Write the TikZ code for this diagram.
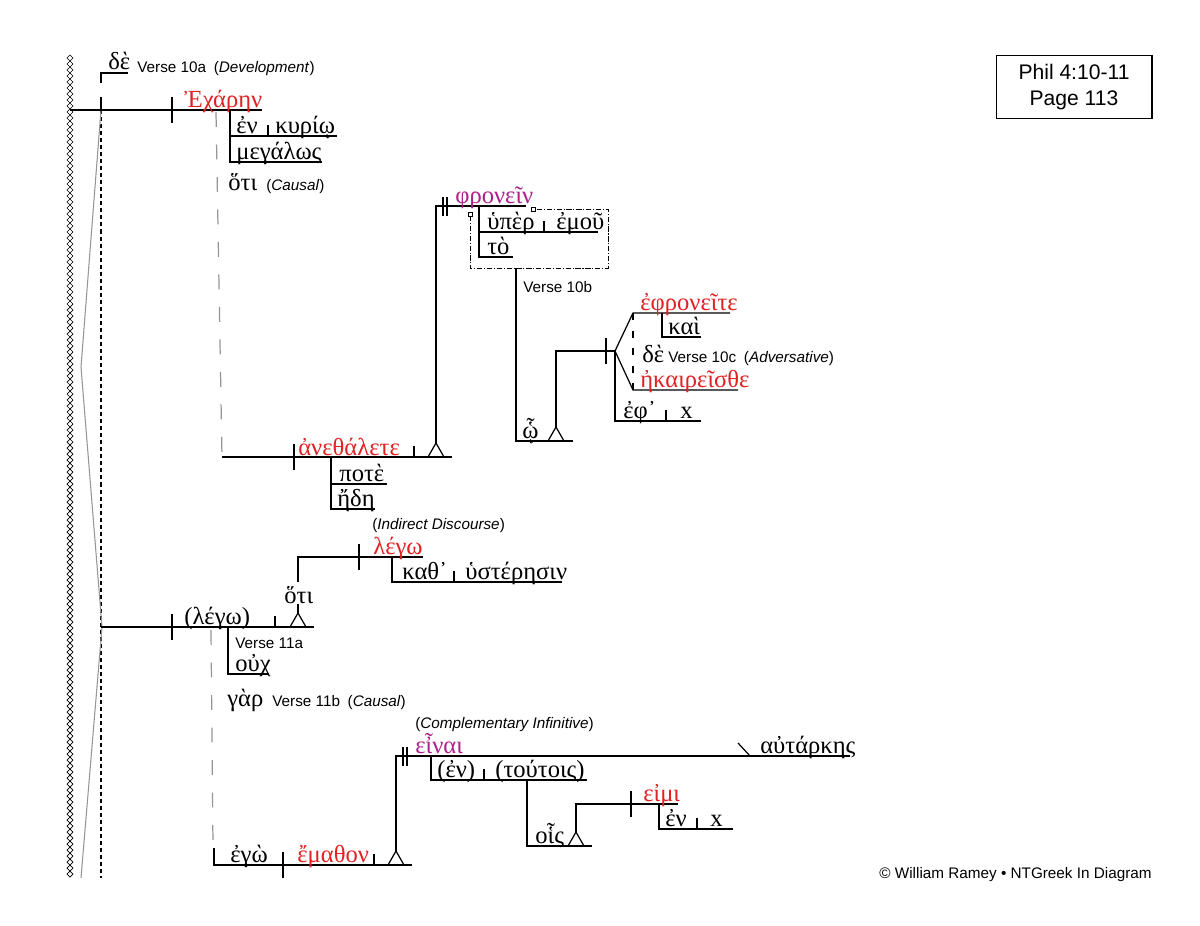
\documentclass[tikz,border=0pt]{standalone}
\usepackage{fontspec}
\setmainfont{Liberation Sans}
\newfontfamily\grk{Liberation Serif}
\usetikzlibrary{positioning}

\definecolor{verbred}{RGB}{226,34,34}
\definecolor{infmag}{RGB}{172,34,140}
\definecolor{guide}{RGB}{150,150,150}

\tikzset{
  base/.style={line width=0.7pt},
  gk/.style={font=\grk\fontsize{14}{14}\selectfont, inner sep=0pt, anchor=base west},
  vb/.style={gk, text=verbred},
  inf/.style={gk, text=infmag},
  lb/.style={font=\fontsize{8.7}{10}\selectfont, inner sep=0pt, anchor=base west},
  guideline/.style={guide, line width=0.7pt, dash pattern=on 8.5pt off 10pt},
  clausebox/.style={line width=0.5pt, dash pattern=on 3pt off 1pt on 0.6pt off 1pt},
  split/.pic={\draw[base] (0,-13) -- (0,13);},
  tick/.pic={\draw[base] (0,0) -- (0,-11);},
  dbar/.pic={\draw[base] (-2,-9) -- (-2,10) (2,-9) -- (2,10);},
  tri/.pic={\draw[base] (-8,0) -- (0,-14) -- (8,0); \coordinate (-apex) at (0,-14);},
  knob/.pic={\draw[line width=0.5pt, fill=white] (-2,-2) rectangle (2,2);}
}

\begin{document}
\begin{tikzpicture}[x=0.02cm, y=-0.02cm]
  \useasboundingbox[fill=white] (0,0) rectangle (1200,926);

  % margin
  \foreach \i in {0,...,136}
    \draw[line width=0.4pt] (70,55+6*\i) -- ++(3,3) -- ++(-3,3) -- ++(-3,-3) -- cycle;
  \coordinate (top) at (101,110);
  \coordinate (bot) at (101,878);
  \draw[line width=0.6pt, dash pattern=on 2.3pt off 1.7pt] (top) -- (bot);
  \draw[guide, line width=0.6pt] (top) -- (81,367) -- (102,627) -- (81,878);

  % verse 10a
  \coordinate (de0) at (101,83);
  \coordinate (de1) at (128,73);
  \draw[base] (de0) |- (de1);
  \draw[base] (101,97) -- (top);
  \node[gk] (de) at (108,70) {δὲ};
  \node[lb] (v10a) at (137,72) {Verse 10a\enspace(\textit{Development})};

  \coordinate (zig) at (70,110);
  \coordinate (ex1) at (262,110);
  \draw[base] (zig) -- (ex1);
  \pic at (172,110) {split};
  \node[vb] (echaren) at (184,108) {Ἐχάρην};
  \coordinate (m0) at (230,110);
  \coordinate (m1) at (337,136);
  \coordinate (m2) at (322,162);
  \draw[base] (m0) |- (m2);
  \draw[base] (m0 |- m1) -- (m1);
  \pic at (268,136) {tick};
  \node[gk] (en1) at (236,133) {ἐν};
  \node[gk] (kyrio) at (275,133) {κυρίῳ};
  \node[gk] (megalos) at (236,159) {μεγάλως};
  \node[gk] (hoti1) at (228,190) {ὅτι};
  \node[lb] (causal1) at (266,190) {(\textit{Causal})};

  % anethalete
  \coordinate (g0) at (216,112);
  \coordinate (an0) at (222,457);
  \coordinate (an1) at (452,457);
  \draw[guideline] (g0) -- (an0);
  \draw[base] (an0) -- (an1);
  \pic at (294,457) {split};
  \pic at (414,457) {tick};
  \pic (t1) at (436,457) {tri};
  \node[vb] (anethalete) at (298,455) {ἀνεθάλετε};
  \coordinate (p0) at (331,457);
  \coordinate (p1) at (387,484);
  \coordinate (p2) at (375,509);
  \draw[base] (p0) |- (p2);
  \draw[base] (p0 |- p1) -- (p1);
  \node[gk] (pote) at (339,481) {ποτὲ};
  \node[gk] (ede) at (337,506) {ἤδη};

  % phronein
  \coordinate (ph0) at (436,206);
  \coordinate (ph1) at (526,206);
  \draw[base] (t1-apex) -- (ph0) -- (ph1);
  \pic at (445,206) {dbar};
  \node[inf] (phronein) at (455,203) {φρονεῖν};
  \coordinate (h0) at (479,206);
  \coordinate (h1) at (598,232);
  \coordinate (h2) at (513,257);
  \draw[base] (h0) |- (h2);
  \draw[base] (h0 |- h1) -- (h1);
  \pic at (544,232) {tick};
  \node[gk] (hyper) at (487,229) {ὑπὲρ};
  \node[gk] (emou) at (556,229) {ἐμοῦ};
  \node[gk] (to) at (487,254) {τὸ};
  \coordinate (k0) at (470,216);
  \coordinate (k1) at (608,268);
  \coordinate (k2) at (535,209);
  \draw[clausebox] (k0) |- (k1) |- (k2);
  \pic at (470,214) {knob};
  \pic at (533,209) {knob};

  % verse 10b / 10c
  \coordinate (w0) at (516,268);
  \coordinate (w1) at (573,441);
  \draw[base] (w0) |- (w1);
  \node[lb] (v10b) at (523,292) {Verse 10b};
  \node[gk] (ho) at (522,438) {ᾧ};
  \pic (t2) at (556,441) {tri};
  \coordinate (c0) at (556,351);
  \coordinate (c1) at (615,351);
  \draw[base] (t2-apex) -- (c0) -- (c1);
  \pic at (606,351) {split};
  \coordinate (up0) at (633,313);
  \coordinate (up1) at (730,313);
  \coordinate (lo0) at (633,390);
  \coordinate (lo1) at (738,390);
  \draw[base] (c1) -- (up0) -- (up1);
  \draw[base] (c1) -- (lo0) -- (lo1);
  \draw[line width=0.6pt, dash pattern=on 4pt off 6pt] (up0) -- (lo0);
  \node[vb] (ephroneite) at (640,310) {ἐφρονεῖτε};
  \node[vb] (ekaireisthe) at (640,387) {ἠκαιρεῖσθε};
  \coordinate (ka0) at (662,313);
  \coordinate (ka1) at (701,337);
  \draw[base] (ka0) |- (ka1);
  \node[gk] (kai) at (668,334) {καὶ};
  \node[gk] (de2) at (642,362) {δὲ};
  \node[lb] (v10c) at (668,362) {Verse 10c\enspace(\textit{Adversative})};
  \coordinate (ep1) at (701,421);
  \draw[base] (c1) |- (ep1);
  \pic at (666,421) {tick};
  \node[gk] (eph) at (623,418) {ἐφ᾿};
  \node[gk] (x1) at (680,418) {x};

  % lego
  \node[lb] (indirect) at (372,529) {(\textit{Indirect Discourse})};
  \coordinate (l0) at (298,582);
  \coordinate (l1) at (423,557);
  \draw[base] (l0) |- (l1);
  \pic at (359,557) {split};
  \node[vb] (lego) at (373,554) {λέγω};
  \coordinate (kt0) at (392,557);
  \coordinate (kt1) at (562,582);
  \draw[base] (kt0) |- (kt1);
  \pic at (454,582) {tick};
  \node[gk] (kath) at (402,579) {καθ᾿};
  \node[gk] (hysteresin) at (465,579) {ὑστέρησιν};
  \node[gk] (hoti2) at (284,603) {ὅτι};

  % verse 11a
  \coordinate (lg0) at (101,627);
  \coordinate (lg1) at (314,627);
  \draw[base] (lg0) -- (lg1);
  \pic at (172,627) {split};
  \pic at (275,627) {tick};
  \pic (t3) at (298,627) {tri};
  \draw[base] (t3-apex) -- (298,604);
  \node[gk] (lego2) at (184,624) {(λέγω)};
  \coordinate (o0) at (228,627);
  \coordinate (o1) at (269,674);
  \draw[base] (o0) |- (o1);
  \node[lb] (v11a) at (235,648) {Verse 11a};
  \node[gk] (ouch) at (235,671) {οὐχ};

  % verse 11b
  \coordinate (g2) at (211,630);
  \coordinate (eg0) at (214,848);
  \coordinate (eg1) at (412,865);
  \draw[guideline] (g2) -- (213,846);
  \draw[base] (eg0) |- (eg1);
  \node[gk] (gar) at (227,706) {γὰρ};
  \node[lb] (v11b) at (272,706) {Verse 11b\enspace(\textit{Causal})};
  \pic at (283,865) {split};
  \pic at (374,865) {tick};
  \pic (t4) at (396,865) {tri};
  \node[gk] (ego) at (230,862) {ἐγὼ};
  \node[vb] (emathon) at (297,862) {ἔμαθον};

  % einai
  \node[lb] (compl) at (415,728) {(\textit{Complementary Infinitive})};
  \coordinate (ei0) at (396,756);
  \coordinate (ei1) at (850,756);
  \draw[base] (t4-apex) -- (ei0) -- (ei1);
  \pic at (405,756) {dbar};
  \node[inf] (einai) at (415,753) {εἶναι};
  \coordinate (bs0) at (738,743);
  \coordinate (bs1) at (750,756);
  \draw[base] (bs0) -- (bs1);
  \node[gk] (autarkes) at (760,753) {αὐτάρκης};
  \coordinate (tt0) at (431,756);
  \coordinate (tt1) at (587,780);
  \draw[base] (tt0) |- (tt1);
  \pic at (484,780) {tick};
  \node[gk] (en2) at (437,777) {(ἐν)};
  \node[gk] (toutois) at (495,777) {(τούτοις)};
  \coordinate (ho0) at (527,780);
  \coordinate (ho1) at (592,846);
  \draw[base] (ho0) |- (ho1);
  \node[gk] (hois) at (535,843) {οἷς};
  \pic (t5) at (576,846) {tri};
  \coordinate (em1) at (678,804);
  \draw[base] (t5-apex) |- (em1);
  \pic at (631,804) {split};
  \node[vb] (eimi) at (643,801) {εἰμι};
  \coordinate (en0) at (659,804);
  \coordinate (en1) at (733,829);
  \draw[base] (en0) |- (en1);
  \pic at (697,829) {tick};
  \node[gk] (en3) at (665,826) {ἐν};
  \node[gk] (x2) at (710,826) {x};

  % page box
  \node[draw, line width=0.6pt, minimum width=3.12cm, minimum height=1.26cm, align=center,
        font=\fontsize{12}{15}\selectfont] (page) at (1074,87) {Phil 4:10-11\\Page 113};
  \node[lb, anchor=base east] (credit) at (1152,878) {© William Ramey • NTGreek In Diagram};
\end{tikzpicture}
\end{document}
